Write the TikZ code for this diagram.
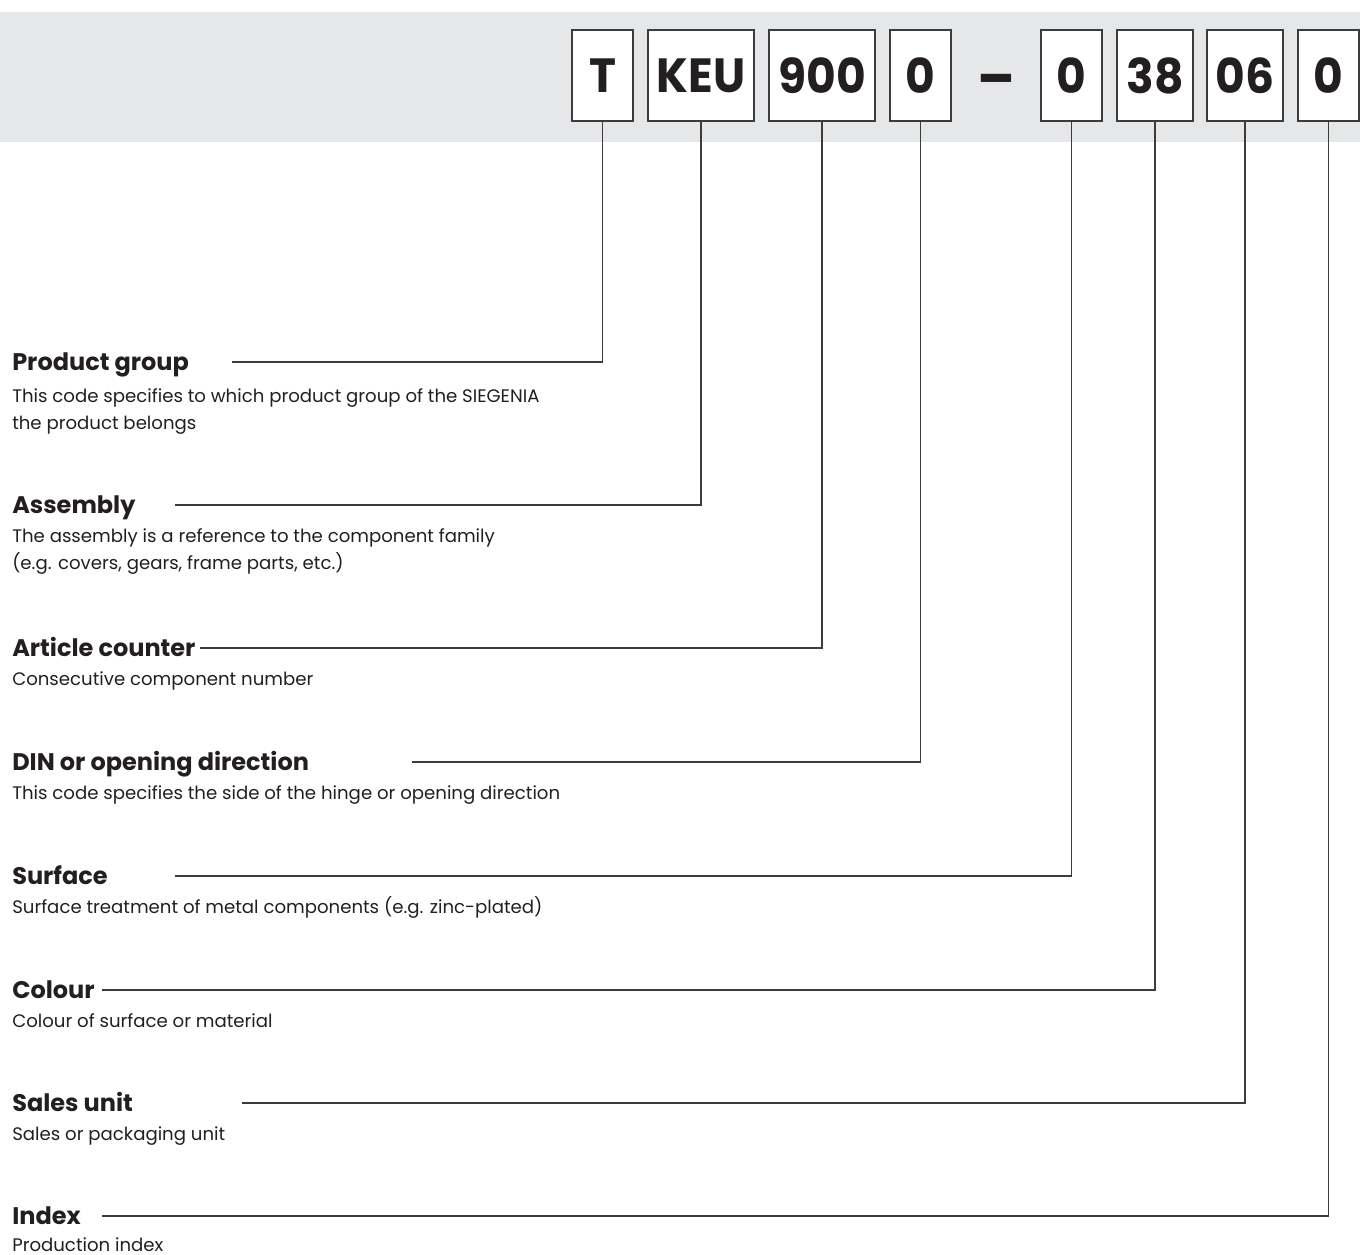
\documentclass[tikz,border=0pt]{standalone}
\usepackage{fontspec}
\setmainfont{Poppins}
\newfontfamily\codefont[FakeStretch=0.95]{Poppins}
\definecolor{bandgrey}{HTML}{E6E7E8}
\definecolor{boxgrey}{HTML}{3C3C3C}
\definecolor{inkgrey}{HTML}{231F20}

\begin{document}
\begin{tikzpicture}
  [ x=0.75pt, y=-0.75pt,
    cell/.style={draw=boxgrey, fill=white, line width=1.4pt,
    minimum height=68.25pt, inner sep=0pt, text=inkgrey,
    font=\codefont\bfseries\fontsize{36}{36}\selectfont},
    head/.style={anchor=base west, inner sep=0pt, text=inkgrey,
    font=\bfseries\fontsize{18}{18}\selectfont},
    desc/.style={anchor=base west, inner sep=0pt, align=left, text=inkgrey,
    font=\fontsize{13.6}{19.8}\selectfont},
    ld/.style={draw=boxgrey, line width=1.1pt}
  ]
  \useasboundingbox (0,0) rectangle (1360,1255);
  \fill [bandgrey] (0,12) rectangle (1360,142);

  \node (cT)    at ( 602.5,75.5) [cell, minimum width=45.75pt] {T};
  \node (cKEU)  at ( 701.0,75.5) [cell, minimum width=79.5pt] {KEU};
  \node (c900)  at ( 822.0,75.5) [cell, minimum width=79.5pt] {900};
  \node (cDIN)  at ( 920.5,75.5) [cell, minimum width=45.75pt] {0};
  \node (cDash) at ( 996.0,99) [cell, draw=none, fill=none, anchor=base,
    font=\codefont\bfseries\fontsize{43}{43}\selectfont] {–};
  \node (cSurf) at (1071.5,75.5) [cell, minimum width=45.75pt] {0};
  \node (cCol)  at (1155.0,75.5) [cell, minimum width=57pt] {38};
  \node (cSale) at (1245.0,75.5) [cell, minimum width=57pt] {06};
  \node (cIdx)  at (1328.5,75.5) [cell, minimum width=45.75pt] {0};

  % headings and descriptions (two-line texts sit on their last baseline)
  \node (hProd) at (12, 370) [head] {Product group};
  \node (dProd) at (12, 429) [desc] {This code specifies to which product group of the SIEGENIA\\the product belongs};
  \node (hAsm)  at (12, 513) [head] {Assembly};
  \node (dAsm)  at (12, 569) [desc] {The assembly is a reference to the component family\\(e.g. covers, gears, frame parts, etc.)};
  \node (hArt)  at (12, 656) [head] {Article counter};
  \node (dArt)  at (12, 685) [desc] {Consecutive component number};
  \node (hDIN)  at (12, 770) [head] {DIN or opening direction};
  \node (dDIN)  at (12, 799) [desc] {This code specifies the side of the hinge or opening direction};
  \node (hSurf) at (12, 884) [head] {Surface};
  \node (dSurf) at (12, 913) [desc] {Surface treatment of metal components (e.g. zinc-plated)};
  \node (hCol)  at (12, 998) [head] {Colour};
  \node (dCol)  at (12,1027) [desc] {Colour of surface or material};
  \node (hSale) at (12,1111) [head] {Sales unit};
  \node (dSale) at (12,1140) [desc] {Sales or packaging unit};
  \node (hIdx)  at (12,1224) [head] {Index};
  \node (dIdx)  at (12,1251) [desc] {Production index};

  \coordinate (sProd) at (232, 362);
  \coordinate (sAsm)  at (175, 505);
  \coordinate (sArt)  at (200, 648);
  \coordinate (sDIN)  at (412, 762);
  \coordinate (sSurf) at (175, 876);
  \coordinate (sCol)  at (102, 990);
  \coordinate (sSale) at (242,1103);
  \coordinate (sIdx)  at (102,1216);

  \draw [ld] (sProd) -| (cT.south);
  \draw [ld] (sAsm)  -| (cKEU.south);
  \draw [ld] (sArt)  -| (c900.south);
  \draw [ld] (sDIN)  -| (cDIN.south);
  \draw [ld] (sSurf) -| (cSurf.south);
  \draw [ld] (sCol)  -| (cCol.south);
  \draw [ld] (sSale) -| (cSale.south);
  \draw [ld] (sIdx)  -| (cIdx.south);
\end{tikzpicture}
\end{document}
